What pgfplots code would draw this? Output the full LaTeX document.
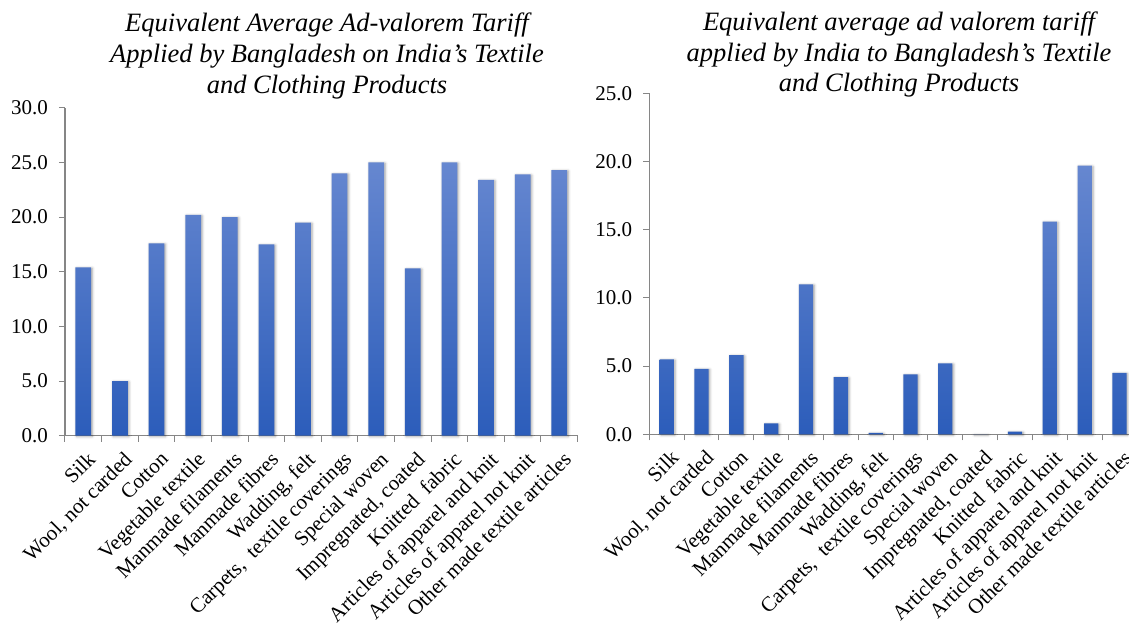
\documentclass[border=0pt]{standalone}
\usepackage{pgfplots}
\pgfplotsset{compat=1.18}
\usepackage{fontspec}
\setmainfont{LiberationSerif}[
  Extension=.ttf,
  UprightFont=*-Regular,
  ItalicFont=*-Italic,
  BoldFont=*-Bold,
  BoldItalicFont=*-BoldItalic]
\usetikzlibrary{shadows.blur}

\definecolor{axisgray}{HTML}{868686}
\definecolor{bartop}{HTML}{6687D0}
\definecolor{barbot}{HTML}{2C5DBA}

\pgfplotsset{
  tariffaxis/.style={
    scale only axis,
    axis lines=left,
    axis line style={axisgray, line width=1.3pt, -},
    xmin=-0.5, xmax=13.5, ymin=0,
    xtick={0,...,13},
    xticklabels={Silk, {Wool, not carded}, Cotton, Vegetable textile,
      Manmade filaments, Manmade fibres, {Wadding, felt},
      {Carpets,~~textile coverings}, Special woven, {Impregnated, coated},
      Knitted~~fabric, Articles of apparel and knit,
      Articles of apparel not knit, Other made textile articles},
    major x tick style={draw=none},
    minor xtick={-0.5,0.5,...,13.5},
    tick align=outside,
    major tick length=6pt, minor tick length=6pt,
    every tick/.style={axisgray, line width=1pt},
    xticklabel style={rotate=45, anchor=north east, inner sep=1pt,
      xshift=-3pt, yshift=-7pt,
      font=\fontsize{21}{23}\selectfont},
    yticklabel style={font=\fontsize{21}{23}\selectfont, inner sep=2pt,
      xshift=-9pt},
    /pgf/number format/assume math mode=true,
    yticklabel={\pgfmathprintnumber[fixed, fixed zerofill, precision=1]{\tick}},
    clip=false,
  },
  tariffbars/.style={
    ybar, draw=none, top color=bartop, bottom color=barbot,
    blur shadow={shadow xshift=1.2pt, shadow yshift=-0.8pt,
      shadow blur radius=2.5pt, shadow opacity=35},
  },
}

\begin{document}
\begin{tikzpicture}
  % Titles
  \begin{scope}[every node/.style={anchor=base, inner sep=0pt,
      font=\fontsize{26.5}{30}\selectfont\itshape}]
    \node at (327pt,-32pt) {Equivalent Average Ad-valorem Tariff};
    \node at (327pt,-63pt) {Applied by Bangladesh on India's Textile};
    \node at (327pt,-93pt) {and Clothing Products};
    \node at (899pt,-31pt) {Equivalent average ad valorem tariff};
    \node at (899pt,-62pt) {applied by India to Bangladesh's Textile};
    \node at (899pt,-92pt) {and Clothing Products};
  \end{scope}

  % Bangladesh on India
  \begin{axis}[tariffaxis,
      at={(65pt,-435.7pt)}, anchor=south west,
      width=512.6pt, height=328pt,
      ymax=30, ytick={0,5,...,30}]
    \addplot[tariffbars, bar width=0.43] coordinates {
      (0,15.4) (1,5.0) (2,17.6) (3,20.2) (4,20.0) (5,17.5) (6,19.5)
      (7,24.0) (8,25.0) (9,15.3) (10,25.0) (11,23.4) (12,23.9) (13,24.3)};
  \end{axis}

  % India to Bangladesh
  \begin{axis}[tariffaxis,
      at={(649.3pt,-434.3pt)}, anchor=south west,
      width=487.6pt, height=341pt,
      ymax=25, ytick={0,5,...,25}]
    \addplot[tariffbars, bar width=0.41] coordinates {
      (0,5.5) (1,4.8) (2,5.8) (3,0.8) (4,11.0) (5,4.2) (6,0.1)
      (7,4.4) (8,5.2) (9,0.0) (10,0.2) (11,15.6) (12,19.7) (13,4.5)};
  \end{axis}

  \pgfresetboundingbox
  \path[use as bounding box] (0,0) rectangle (1129pt,-626pt);
\end{tikzpicture}
\end{document}
